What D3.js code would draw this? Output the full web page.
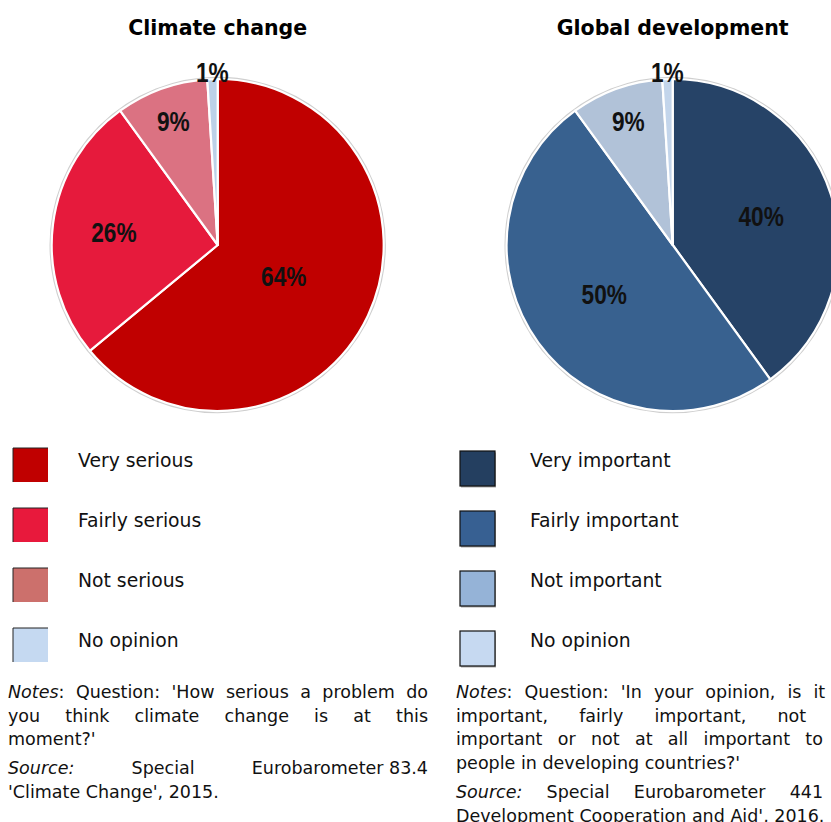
<!DOCTYPE html>
<html>
<head>
<meta charset="utf-8">
<script src="https://cdn.jsdelivr.net/npm/d3@7/dist/d3.min.js"></script>
<style>
  html, body { margin: 0; padding: 0; background: #fff; }
  svg { display: block; }
</style>
</head>
<body>
<svg id="chart" width="831" height="822"></svg>
<script>
// ---- data ----
const climateTitle = "Climate change";
const climateCategories = ["Very serious", "Fairly serious", "Not serious", "No opinion"];
const climateValues = [64, 26, 9, 1];

const devTitle = "Global development";
const devCategories = ["Very important", "Fairly important", "Not important", "No opinion"];
const devValues = [40, 50, 9, 1];

const climateNotes = [
  ["*Notes*: Question: 'How serious a problem do", true],
  ["you think climate change is at this", true],
  ["moment?'", false]
];
const climateSource = [
  ["*Source:* Special Eurobarometer\u00a083.4", true],
  ["'Climate Change', 2015.", false]
];
const devNotes = [
  ["*Notes*: Question: 'In your opinion, is it very", true],
  ["important, fairly important, not very", true],
  ["important or not at all important to help", true],
  ["people in developing countries?'", false]
];
const devSource = [
  ["*Source:* Special Eurobarometer 441 'EU", true],
  ["Development Cooperation and Aid', 2016.", false]
];

// ---- styles ----
const climatePieColors = ["#C00000", "#E61A3C", "#DB7282", "#BCD1E8"];
const climateLegendColors = ["#C00000", "#E8193C", "#CC706C", "#C5D9F1"];
const devPieColors = ["#264367", "#38618F", "#B1C2D8", "#C3D5EB"];
const devLegendColors = ["#243F60", "#376092", "#95B3D7", "#C6D9F1"];

const svg = d3.select("#chart");
const R = 166;
const labelFont = "'Liberation Sans', Arial, sans-serif";
const bodyFont = "'DejaVu Sans', Verdana, sans-serif";

// label radius (fraction of R) as a function of slice value
const labelRadius = d3.scaleLinear().domain([1, 9, 26, 64]).range([1.04, 0.79, 0.63, 0.44]).clamp(true);

function drawPie(cx, cy, title, cats, vals, colors) {
  const g = svg.append("g").attr("transform", `translate(${cx},${cy})`);
  svg.append("text")
    .attr("x", cx).attr("y", 35)
    .attr("text-anchor", "middle")
    .attr("font-family", bodyFont)
    .attr("font-weight", "bold")
    .attr("font-size", 20.5)
    .attr("fill", "#000")
    .text(title);

  const pie = d3.pie().sort(null).value(d => d.v);
  const data = pie(cats.map((c, i) => ({ c, v: vals[i], i })));
  const arc = d3.arc().innerRadius(0).outerRadius(R);

  g.append("circle").attr("r", R + 1.2).attr("fill", "none")
    .attr("stroke", "#cfcfcf").attr("stroke-width", 2);

  g.selectAll("path.slice").data(data).join("path")
    .attr("class", "slice")
    .attr("d", arc)
    .attr("fill", d => colors[d.data.i])
    .attr("stroke", "#fff")
    .attr("stroke-width", 2.2)
    .attr("stroke-linejoin", "round");

  g.selectAll("text.lbl").data(data).join("text")
    .attr("class", "lbl")
    .attr("transform", d => {
      const r = labelRadius(d.data.v) * R;
      const a = (d.startAngle + d.endAngle) / 2;
      return `translate(${r * Math.sin(a)},${-r * Math.cos(a)}) scale(0.84,1)`;
    })
    .attr("text-anchor", "middle")
    .attr("dy", "0.36em")
    .attr("font-family", labelFont)
    .attr("font-weight", "bold")
    .attr("font-size", 27)
    .attr("fill", "#111")
    .text(d => d.data.v + "%");
}

function drawLegend(x, y0, cats, colors, boxed) {
  const g = svg.append("g");
  const step = 60;
  cats.forEach((c, i) => {
    const y = y0 + i * step;
    if (boxed) {
      const by = y + 3;
      g.append("rect").attr("x", x + 1).attr("y", by + 1.5).attr("width", 35).attr("height", 35)
        .attr("fill", "#aaa");
      g.append("rect").attr("x", x).attr("y", by).attr("width", 35).attr("height", 35)
        .attr("fill", colors[i]).attr("stroke", "#111").attr("stroke-width", 1.2);
    } else {
      g.append("rect").attr("x", x).attr("y", y).attr("width", 35).attr("height", 34)
        .attr("fill", colors[i]);
      g.append("path").attr("d", `M${x},${y + 34}V${y}H${x + 35}`)
        .attr("fill", "none").attr("stroke", "#222").attr("stroke-width", 1);
    }
    g.append("text")
      .attr("x", boxed ? x + 70 : x + 65)
      .attr("y", y + 19)
      .attr("font-family", bodyFont)
      .attr("font-size", 18.8)
      .attr("fill", "#111")
      .text(c);
  });
}

function parseWord(w) {
  const segs = [];
  const parts = w.split("*");
  parts.forEach((p, k) => { if (p.length) segs.push([p, k % 2 === 1]); });
  return segs;
}

function drawPara(x0, width, y0, lh, lines) {
  const g = svg.append("g")
    .attr("font-family", bodyFont)
    .attr("font-size", 17.5)
    .attr("fill", "#111");
  const sp = (() => {
    const t = g.append("text").text("a a");
    const t2 = g.append("text").text("aa");
    const w = t.node().getComputedTextLength() - t2.node().getComputedTextLength();
    t.remove(); t2.remove();
    return w;
  })();
  lines.forEach(([line, justify], li) => {
    const y = y0 + li * lh;
    const words = line.split(" ").map(parseWord);
    const widths = words.map(segs => {
      const t = g.append("text").attr("x", 0).attr("y", -100);
      segs.forEach(s => t.append("tspan").attr("font-style", s[1] ? "italic" : "normal").text(s[0]));
      const w = t.node().getComputedTextLength();
      t.remove();
      return w;
    });
    const total = d3.sum(widths);
    const gap = (justify && words.length > 1) ? Math.max(sp, (width - total) / (words.length - 1)) : sp;
    let x = x0;
    words.forEach((segs, k) => {
      const t = g.append("text").attr("x", x).attr("y", y);
      segs.forEach(s => t.append("tspan").attr("font-style", s[1] ? "italic" : "normal").text(s[0]));
      x += widths[k] + gap;
    });
  });
}

drawPie(217.7, 245, climateTitle, climateCategories, climateValues, climatePieColors);
drawPie(672.7, 245, devTitle, devCategories, devValues, devPieColors);

drawLegend(13, 448, climateCategories, climateLegendColors, false);
drawLegend(460, 448, devCategories, devLegendColors, true);

drawPara(8, 420, 698, 23.5, climateNotes);
drawPara(8, 420, 774, 23.5, climateSource);
drawPara(456, 420, 698, 23.5, devNotes);
drawPara(456, 420, 798, 23.5, devSource);
</script>
</body>
</html>
